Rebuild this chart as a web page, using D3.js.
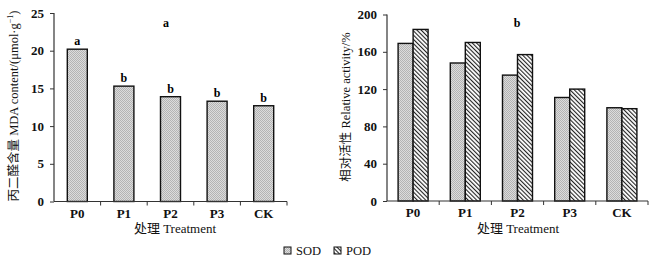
<!DOCTYPE html>
<html>
<head>
<meta charset="utf-8">
<script src="https://cdn.jsdelivr.net/npm/d3@7"></script>
<style>
  body { margin: 0; background: #fff; }
  svg text { font-family: "Liberation Serif", "Noto Sans CJK SC", serif; }
</style>
</head>
<body>
<div id="graph"></div>
<script>
var treatments = ['P0', 'P1', 'P2', 'P3', 'CK']
var mdaValues = [20.2, 15.3, 13.9, 13.3, 12.7]
var mdaLetters = ['a', 'b', 'b', 'b', 'b']
var sodValues = [169, 148, 135, 111, 100]
var podValues = [184, 170, 157, 120, 99]
var mdaTicks = [0, 5, 10, 15, 20, 25]
var actTicks = [0, 40, 80, 120, 160, 200]
var seriesNames = ['SOD', 'POD']

var svg = d3.select('#graph').append('svg')
  .attr('width', 654).attr('height', 262)

// patterns
var defs = svg.append('defs')
var dots = defs.append('pattern').attr('id', 'dots')
  .attr('patternUnits', 'userSpaceOnUse').attr('width', 2).attr('height', 2)
dots.append('rect').attr('width', 2).attr('height', 2).attr('fill', '#dcdcdc')
dots.append('rect').attr('width', 1).attr('height', 1).attr('fill', '#b4b4b4')
dots.append('rect').attr('x', 1).attr('y', 1).attr('width', 1).attr('height', 1).attr('fill', '#b4b4b4')

var hatch = defs.append('pattern').attr('id', 'hatch')
  .attr('patternUnits', 'userSpaceOnUse').attr('width', 3).attr('height', 3)
  .attr('patternTransform', 'rotate(-45)')
hatch.append('rect').attr('width', 3).attr('height', 3).attr('fill', '#fff')
hatch.append('rect').attr('width', 1.1).attr('height', 3).attr('fill', '#222')

var fills = ['url(#dots)', 'url(#hatch)']

function drawAxes(g, x, y, ticks, x0, x1) {
  var yAxis = g.append('g').attr('transform', 'translate(' + x0 + ',0)')
    .call(d3.axisLeft(y).tickValues(ticks).tickSize(4).tickPadding(6))
  yAxis.select('.domain').attr('d', 'M0,' + y.range()[0] + 'V' + y.range()[1])
    .attr('stroke', '#333').attr('stroke-width', 1.2)
  yAxis.selectAll('.tick line').attr('stroke', '#333')
  yAxis.selectAll('text').attr('font-size', 13).attr('font-weight', 'bold').attr('fill', '#111')

  var base = y(0)
  var xAxis = g.append('g').attr('transform', 'translate(0,' + base + ')')
  xAxis.append('line').attr('x1', x0).attr('x2', x1).attr('stroke', '#333').attr('stroke-width', 1.2)
  var step = x.step()
  var bounds = d3.range(treatments.length + 1).map(i => x.range()[0] + i * step)
  xAxis.selectAll('line.tk').data(bounds.slice(1)).join('line').attr('class', 'tk')
    .attr('x1', d => d).attr('x2', d => d).attr('y1', 0).attr('y2', 4).attr('stroke', '#333')
  xAxis.selectAll('text').data(treatments).join('text')
    .attr('x', d => x(d) + x.bandwidth() / 2).attr('y', 16)
    .attr('text-anchor', 'middle').attr('font-size', 13).attr('font-weight', 'bold').attr('fill', '#111')
    .text(d => d)
}

// left panel: MDA
var xL = d3.scaleBand().domain(treatments).range([54, 287]).paddingInner(0).paddingOuter(0)
var yL = d3.scaleLinear().domain([0, 25]).range([201.5, 13])
var left = svg.append('g')

left.selectAll('rect.bar').data(mdaValues).join('rect').attr('class', 'bar')
  .attr('x', (d, i) => xL(treatments[i]) + (xL.bandwidth() - 20) / 2)
  .attr('width', 20)
  .attr('y', d => yL(d)).attr('height', d => yL(0) - yL(d))
  .attr('fill', fills[0]).attr('stroke', '#111').attr('stroke-width', 1.4)

left.selectAll('text.sig').data(mdaLetters).join('text').attr('class', 'sig')
  .attr('x', (d, i) => xL(treatments[i]) + xL.bandwidth() / 2)
  .attr('y', (d, i) => yL(mdaValues[i]) - 4)
  .attr('text-anchor', 'middle').attr('font-size', 12).attr('font-weight', 'bold')
  .text(d => d)

drawAxes(left, xL, yL, mdaTicks, 54, 287)

left.append('text').attr('x', 166).attr('y', 27).attr('text-anchor', 'middle')
  .attr('font-size', 12).attr('font-weight', 'bold').text('a')

var ylab = left.append('text').attr('transform', 'translate(18,106) rotate(-90)')
  .attr('text-anchor', 'middle').attr('font-size', 12.5).attr('fill', '#111')
ylab.append('tspan').text('丙二醛含量 MDA content/(μmol·g')
ylab.append('tspan').attr('font-size', 8).attr('dy', -5).text('−1')
ylab.append('tspan').attr('dy', 5).text(')')

left.append('text').attr('x', 175).attr('y', 233).attr('text-anchor', 'middle')
  .attr('font-size', 13).attr('fill', '#111').text('处理  Treatment')

// right panel: relative activity
var xR = d3.scaleBand().domain(treatments).range([387, 648])
var yR = d3.scaleLinear().domain([0, 200]).range([201, 14.5])
var xs = d3.scaleBand().domain(seriesNames).range([0, 30])
var right = svg.append('g')

var groups = seriesNames.map((s, k) => treatments.map((t, i) => ({
  t: t, s: s, k: k, v: k ? podValues[i] : sodValues[i]
})))

right.selectAll('g.series').data(groups).join('g').attr('class', 'series')
  .selectAll('rect').data(d => d).join('rect')
  .attr('x', d => xR(d.t) + (xR.bandwidth() - 30) / 2 + xs(d.s))
  .attr('width', xs.bandwidth())
  .attr('y', d => yR(d.v)).attr('height', d => yR(0) - yR(d.v))
  .attr('fill', d => fills[d.k]).attr('stroke', '#111').attr('stroke-width', 1.4)

drawAxes(right, xR, yR, actTicks, 387, 648)

right.append('text').attr('x', 517).attr('y', 27).attr('text-anchor', 'middle')
  .attr('font-size', 12).attr('font-weight', 'bold').text('b')

right.append('text').attr('transform', 'translate(350,107) rotate(-90)')
  .attr('text-anchor', 'middle').attr('font-size', 12.5).attr('fill', '#111')
  .text('相对活性 Relative activity/%')

right.append('text').attr('x', 518).attr('y', 233).attr('text-anchor', 'middle')
  .attr('font-size', 13).attr('fill', '#111').text('处理  Treatment')

// legend
var legendX = [284, 334]
var legend = svg.append('g')
seriesNames.forEach((s, k) => {
  legend.append('rect').attr('x', legendX[k]).attr('y', 247).attr('width', 7).attr('height', 7)
    .attr('fill', fills[k]).attr('stroke', '#111').attr('stroke-width', 1)
  legend.append('text').attr('x', legendX[k] + 12).attr('y', 255)
    .attr('font-size', 12.5).attr('fill', '#111').text(s)
})
</script>
</body>
</html>
